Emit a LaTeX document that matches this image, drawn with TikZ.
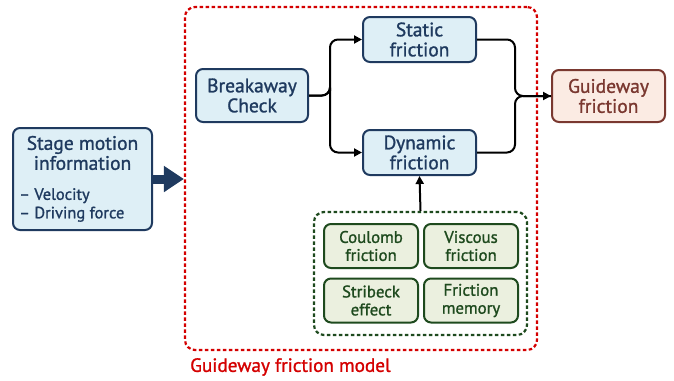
\documentclass[tikz,border=0pt]{standalone}
\usepackage{fontspec}
\setmainfont{PT Sans}
\newfontfamily\lbl{PT Sans}[FakeBold=1.2,Ligatures=TeX]
\usetikzlibrary{arrows.meta}
\definecolor{navy}{HTML}{1F3A5F}
\definecolor{bluefill}{HTML}{DEEFF6}
\definecolor{gdark}{HTML}{1E4A1E}
\definecolor{gfill}{HTML}{EBF0DF}
\definecolor{brn}{HTML}{7A3830}
\definecolor{brnfill}{HTML}{FBEBE3}
\definecolor{redd}{HTML}{D40000}
\tikzset{
  bigtxt/.style={font=\lbl\fontsize{19.5}{20}\selectfont},
  bluebox/.style={draw=navy, fill=bluefill, line width=2pt, rounded corners=7pt, text=navy, bigtxt, align=center, inner sep=0pt},
  greenbox/.style={draw=gdark, fill=gfill, line width=2pt, rounded corners=7pt, text=gdark, font=\lbl\fontsize{16.8}{18}\selectfont, align=center, inner sep=0pt, minimum width=94pt, minimum height=44pt},
  brnbox/.style={draw=brn, fill=brnfill, line width=2pt, rounded corners=7pt, text=brn, bigtxt, align=center, inner sep=0pt, minimum width=113pt, minimum height=52pt},
  conn/.style={draw=black, line width=2pt, rounded corners=8pt},
  arr/.style={-{Triangle[length=8pt,width=8pt]}},
}
\begin{document}
\begin{tikzpicture}[x=1pt,y=-1pt]
\useasboundingbox (0,0) rectangle (674,380);
% red dashed frame
\node[draw=redd, line width=2.2pt, dash pattern=on 3.5pt off 2.5pt, rounded corners=10pt, minimum width=352pt, minimum height=343pt, inner sep=0pt] (frame) at (361,178.5) {};
\node[anchor=west, text=redd, font=\lbl\fontsize{19.2}{20}\selectfont, inner sep=0pt] (framelbl) at (190,367) {Guideway friction model};
% green dashed group
\node[draw=gdark, line width=2.2pt, dash pattern=on 3.5pt off 2.5pt, rounded corners=10pt, minimum width=213pt, minimum height=123pt, inner sep=0pt, fill=white] (grp) at (420.5,273.5) {};
% stage motion
\node[bluebox, minimum width=139pt, minimum height=102pt] (stage) at (82.5,179) {};
\node[text=navy, bigtxt, align=center, inner sep=0pt] (stagetitle) at (82.5,153) {Stage motion\\information};
\node[text=navy, font=\lbl\fontsize{16.4}{18.5}\selectfont, align=left, anchor=west, inner sep=0pt] (stagelist) at (19,205) {– Velocity\\– Driving force};
% boxes
\node[bluebox, minimum width=112pt, minimum height=53pt] (brk) at (252,95.5) {Breakaway\\Check};
\node[bluebox, minimum width=113pt, minimum height=45pt] (stat) at (419.5,39.5) {Static\\friction};
\node[bluebox, minimum width=113pt, minimum height=45pt] (dyn) at (419.5,152.5) {Dynamic\\friction};
\node[brnbox] (guide) at (608.5,96) {Guideway\\friction};
\node[greenbox] (coul) at (371,246) {Coulomb\\friction};
\node[greenbox] (visc) at (471,246) {Viscous\\friction};
\node[greenbox] (strib) at (371,300.5) {Stribeck\\effect};
\node[greenbox] (mem) at (471,300.5) {Friction\\memory};
% connectors
\coordinate (bx) at (330,0);
\coordinate (gx) at (515,0);
\draw[conn, arr] (brk.east) -| (bx |- brk.east) |- (stat.west);
\draw[conn, arr] (brk.east) -| (bx |- brk.east) |- (dyn.west);
\draw[conn] (stat.east) -| (gx |- guide.west) -- (guide.west);
\draw[conn, arr] (dyn.east) -| (gx |- guide.west) -- (guide.west);
\draw[line width=2pt, arr] (grp.north) -- (dyn.south);
% thick arrow
\draw[navy, line width=9pt, -{Triangle[length=20pt,width=25pt]}] (stage.east) -- (frame.west |- stage.east);
\end{tikzpicture}
\end{document}
